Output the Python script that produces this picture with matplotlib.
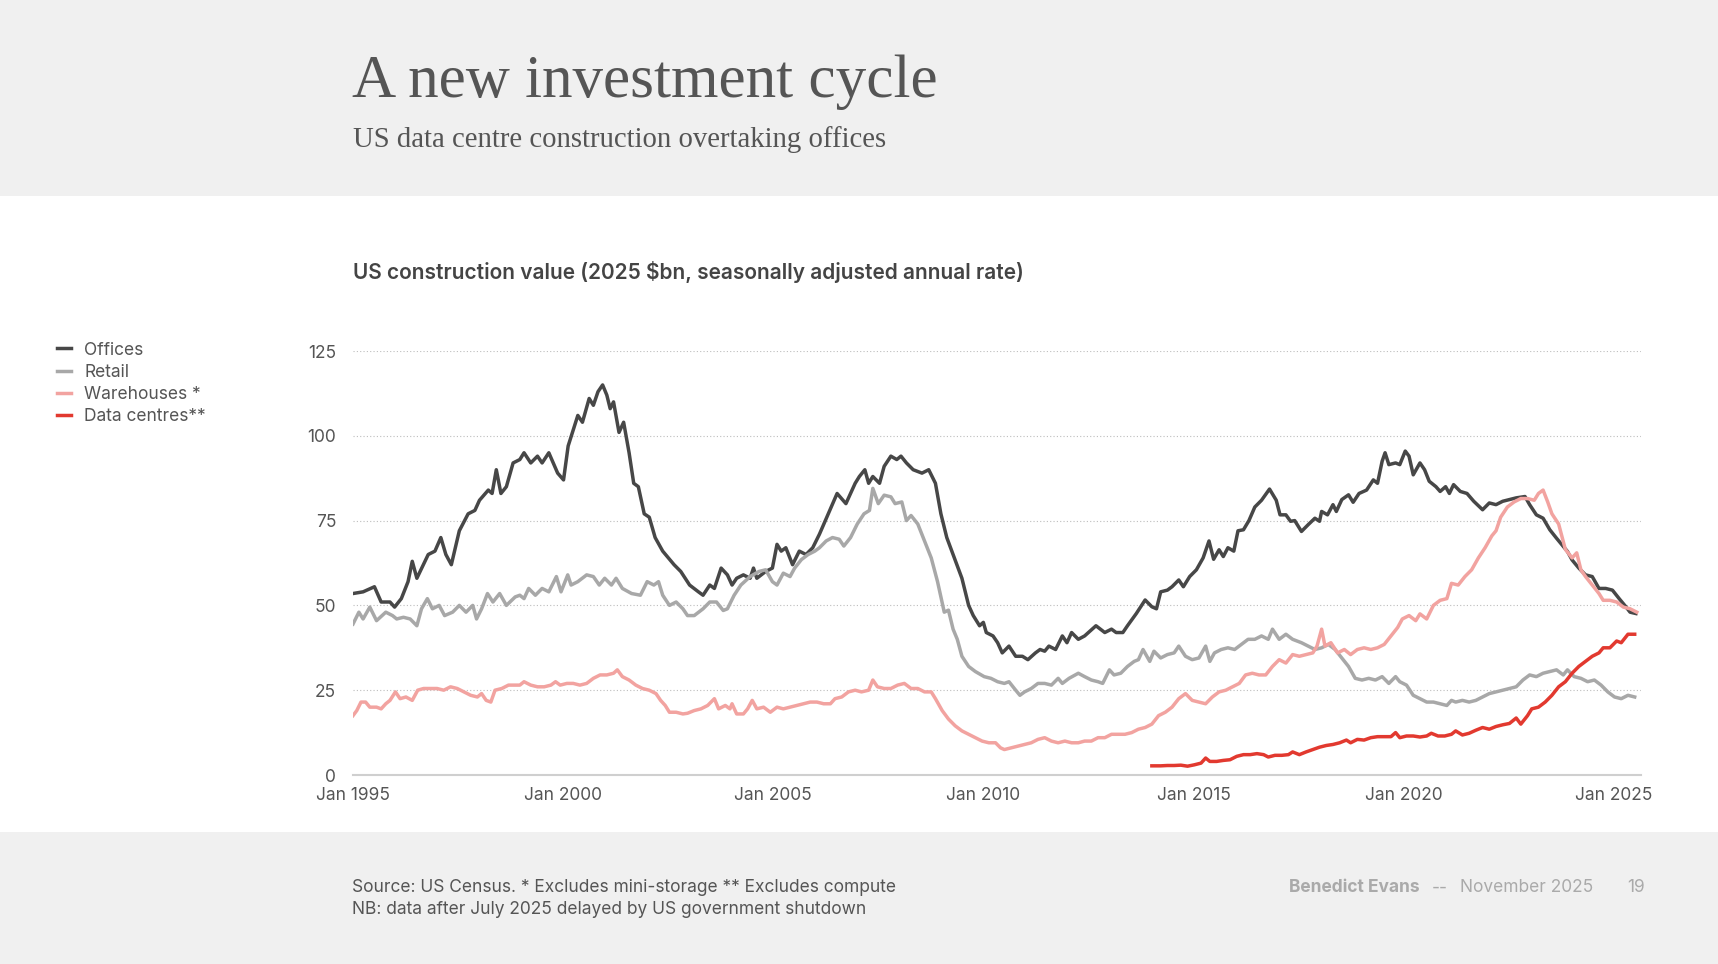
import matplotlib
matplotlib.use("Agg")
import matplotlib.pyplot as plt

# values (decimal year, $bn)
offices_t = [1995.0, 1995.24, 1995.51, 1995.67, 1995.88, 1995.99, 1996.15, 1996.31, 1996.41, 1996.52,
             1996.79, 1996.95, 1997.09, 1997.21, 1997.34, 1997.53, 1997.74, 1997.9, 1998.01, 1998.22,
             1998.31, 1998.41, 1998.52, 1998.65, 1998.81, 1998.97, 1999.07, 1999.23, 1999.39, 1999.5,
             1999.66, 1999.87, 2000.01, 2000.12, 2000.3, 2000.35, 2000.46, 2000.62, 2000.72, 2000.83,
             2000.94, 2001.04, 2001.12, 2001.2, 2001.33, 2001.44, 2001.57, 2001.68, 2001.79, 2001.93,
             2002.05, 2002.19, 2002.37, 2002.64, 2002.8, 2003.01, 2003.22, 2003.33, 2003.49, 2003.6,
             2003.76, 2003.91, 2004.02, 2004.13, 2004.29, 2004.45, 2004.53, 2004.61, 2004.82, 2004.98,
             2005.09, 2005.19, 2005.3, 2005.46, 2005.62, 2005.78, 2005.94, 2006.1, 2006.31, 2006.52,
             2006.73, 2006.95, 2007.05, 2007.18, 2007.27, 2007.37, 2007.53, 2007.64, 2007.8, 2007.94,
             2008.04, 2008.17, 2008.33, 2008.54, 2008.7, 2008.86, 2008.99, 2009.13,
             2009.28, 2009.49, 2009.65, 2009.76, 2009.91, 2010.0, 2010.07, 2010.23, 2010.34, 2010.45,
             2010.61, 2010.77, 2010.93, 2011.06, 2011.24, 2011.35, 2011.46, 2011.56, 2011.72, 2011.88,
             2011.99, 2012.1, 2012.26, 2012.41, 2012.68, 2012.89, 2013.05, 2013.16, 2013.32, 2013.43,
             2013.64, 2013.85, 2014.01, 2014.12, 2014.22, 2014.38, 2014.49, 2014.65, 2014.76, 2014.91,
             2015.07, 2015.23, 2015.37, 2015.48, 2015.61, 2015.71, 2015.82, 2015.96, 2016.06, 2016.19,
             2016.32, 2016.46, 2016.62, 2016.81, 2016.97, 2017.06, 2017.2, 2017.31, 2017.41, 2017.57,
             2017.73, 2017.89, 2018.0, 2018.05, 2018.19, 2018.32, 2018.4, 2018.53, 2018.69, 2018.8,
             2018.94, 2019.12, 2019.28, 2019.38, 2019.49, 2019.56, 2019.65, 2019.81, 2019.91, 2020.04,
             2020.13, 2020.23, 2020.39, 2020.5, 2020.61, 2020.77, 2020.87, 2021.0, 2021.09, 2021.19,
             2021.35, 2021.51, 2021.67, 2021.88, 2022.04, 2022.2, 2022.36, 2022.52, 2022.68, 2022.89,
             2023.0, 2023.16, 2023.32, 2023.48, 2023.64, 2023.74, 2023.9, 2024.01, 2024.17, 2024.33,
             2024.49, 2024.65, 2024.81, 2024.97, 2025.13, 2025.29, 2025.39, 2025.53]
offices_v = [53.5, 54, 55.5, 51, 51, 49.5, 52, 57, 63, 58,
             65, 66, 70, 65, 62, 72, 77, 78, 81, 84,
             83, 90, 83, 85, 92, 93, 95, 92, 94, 92,
             95, 89, 87, 97, 104, 106, 104, 111, 109, 113,
             115, 112, 108, 110, 101, 104, 95, 86, 85, 77,
             76, 70, 66, 62, 60, 56, 54, 53, 56, 55,
             61, 59, 56, 58, 59, 58, 61, 58, 60, 61,
             68, 66, 67, 62, 66, 65, 67, 71, 77, 83,
             80, 86, 88, 90, 86, 88, 86, 91, 94, 93,
             94, 92, 90, 89, 90, 86, 77, 70,
             65, 58, 50, 47, 44, 45, 42, 41, 39, 36,
             38, 35, 35, 34, 36, 37, 36.5, 38, 37, 41,
             39, 42, 40, 41, 44, 42, 43, 42, 42, 44,
             47.6, 51.6, 49.6, 49, 54, 54.5, 55.5, 57.5, 55.5, 58.5,
             60.5, 64, 69, 63.6, 66.4, 64.4, 67, 66, 72, 72.3,
             75, 79, 81, 84.3, 81, 76.7, 76.7, 74.8, 75, 71.8,
             73.8, 75.7, 74.8, 77.7, 76.7, 79.7, 77.7, 81.2, 82.6, 80.4,
             83, 84, 87, 86, 92.5, 95, 91.5, 92, 91.5, 95.5,
             94, 88.5, 92, 90, 86.6, 85, 83.6, 85, 83, 85.6,
             83.6, 83, 80.7, 78.2, 80.2, 79.7, 80.7, 81.2, 81.7, 82.1,
             79.7, 76.7, 75.7, 72.3, 69.8, 68.3, 65.9, 63.4, 61, 59,
             58.5, 55, 55, 54.5, 52, 49.6, 48, 47.6]

retail_t = [1995.0, 1995.14, 1995.24, 1995.4, 1995.56, 1995.78, 1995.94, 1996.04, 1996.2, 1996.36,
            1996.52, 1996.63, 1996.77, 1996.89, 1997.05, 1997.18, 1997.37, 1997.53, 1997.69, 1997.85,
            1997.94, 1998.06, 1998.2, 1998.33, 1998.49, 1998.65, 1998.86, 1998.97, 1999.07, 1999.18,
            1999.34, 1999.5, 1999.66, 1999.84, 1999.95, 2000.11, 2000.19, 2000.35, 2000.56, 2000.72,
            2000.86, 2000.99, 2001.15, 2001.26, 2001.41, 2001.63, 2001.84, 2002.0, 2002.16, 2002.27,
            2002.37, 2002.53, 2002.69, 2002.85, 2002.96, 2003.12, 2003.33, 2003.49, 2003.65, 2003.81,
            2003.91, 2004.07, 2004.23, 2004.45, 2004.66, 2004.82, 2004.98, 2005.09, 2005.24, 2005.4,
            2005.51, 2005.67, 2005.83, 2005.99, 2006.1, 2006.26, 2006.41, 2006.57, 2006.68, 2006.84,
            2007.0, 2007.16, 2007.29, 2007.37, 2007.5, 2007.64, 2007.8, 2007.9, 2008.06, 2008.17,
            2008.28, 2008.44, 2008.6, 2008.76, 2008.91, 2009.07,
            2009.17, 2009.28, 2009.38, 2009.49, 2009.65, 2009.81, 2010.02, 2010.18, 2010.34, 2010.5,
            2010.61, 2010.77, 2010.87, 2010.98, 2011.14, 2011.3, 2011.46, 2011.62, 2011.78, 2011.88,
            2012.04, 2012.26, 2012.41, 2012.57, 2012.73, 2012.84, 2013.0, 2013.11, 2013.27, 2013.43,
            2013.59, 2013.69, 2013.8, 2013.96, 2014.06, 2014.22, 2014.38, 2014.54, 2014.65, 2014.81,
            2014.97, 2015.13, 2015.29, 2015.39, 2015.5, 2015.66, 2015.82, 2015.98, 2016.14, 2016.3,
            2016.46, 2016.62, 2016.78, 2016.88, 2017.04, 2017.2, 2017.36, 2017.57, 2017.73, 2017.89,
            2018.05, 2018.21, 2018.37, 2018.53, 2018.69, 2018.85, 2019.01, 2019.17, 2019.33, 2019.49,
            2019.65, 2019.81, 2019.91, 2020.07, 2020.23, 2020.39, 2020.55, 2020.71, 2020.87, 2021.03,
            2021.14, 2021.24, 2021.4, 2021.56, 2021.72, 2021.88, 2022.04, 2022.2, 2022.36, 2022.52,
            2022.68, 2022.84, 2023.0, 2023.16, 2023.32, 2023.48, 2023.64, 2023.8, 2023.9, 2024.06,
            2024.22, 2024.38, 2024.54, 2024.7, 2024.86, 2025.02, 2025.18, 2025.34, 2025.5]
retail_v = [44.5, 48, 46, 49.5, 45.5, 48, 47, 46, 46.5, 46,
            44, 49, 52, 49, 50, 47, 48, 50, 48, 50,
            46, 49, 53.5, 51, 53.5, 50, 52.5, 53, 52, 55,
            53, 55, 54, 58.5, 54, 59, 56, 57, 59, 58.5,
            56, 58, 56, 58, 55, 53.5, 53, 57, 56, 57,
            53, 50, 51, 49, 47, 47, 49, 51, 51, 48.5,
            49, 53, 56, 58.5, 60, 60.5, 57, 56, 59.5, 58.5,
            61, 63.5, 65, 66, 67, 69, 70, 69.5, 67.5, 70,
            74, 77, 78, 84.5, 80, 82.5, 82, 80, 80.5, 75,
            76.5, 74, 69, 64, 57, 48,
            48.6, 43, 40, 35, 32, 30.5, 29, 28.5, 27.5, 27,
            27.5, 25, 23.5, 24.5, 25.5, 27, 27, 26.5, 28.5, 27,
            28.5, 30, 29, 28, 27.5, 27, 31, 29.5, 30, 32,
            33.5, 34, 37, 33.5, 36.5, 34.5, 35.5, 36, 38, 35,
            34, 34.5, 38, 33.5, 36, 37, 37.5, 37, 38.5, 40,
            40, 41, 40, 43, 40, 41.5, 40, 39, 38, 37,
            37.5, 38.5, 37, 34.5, 32, 28.5, 28, 28.5, 28, 29,
            27, 29, 27.5, 26.5, 23.5, 22.5, 21.5, 21.5, 21, 20.5,
            22, 21.5, 22, 21.5, 22, 23, 24, 24.5, 25, 25.5,
            26, 28, 29.5, 29, 30, 30.5, 31, 29.5, 31, 29,
            28.5, 27.5, 28, 26.5, 24.5, 23, 22.5, 23.5, 23]

warehouses_t = [1995.0, 1995.09, 1995.19, 1995.3, 1995.4, 1995.56, 1995.67, 1995.78, 1995.88, 1996.01,
                1996.12, 1996.26, 1996.41, 1996.54, 1996.68, 1996.84, 1997.0, 1997.16, 1997.32, 1997.48,
                1997.64, 1997.8, 1997.96, 1998.06, 1998.17, 1998.28, 1998.38, 1998.54, 1998.7, 1998.86,
                1998.97, 1999.07, 1999.23, 1999.39, 1999.55, 1999.71, 1999.82, 1999.93, 2000.09, 2000.24,
                2000.4, 2000.56, 2000.72, 2000.88, 2001.04, 2001.2, 2001.29, 2001.41, 2001.57, 2001.73,
                2001.89, 2002.05, 2002.21, 2002.32, 2002.43, 2002.53, 2002.69, 2002.85, 2002.96, 2003.12,
                2003.28, 2003.44, 2003.6, 2003.7, 2003.86, 2003.97, 2004.02, 2004.13, 2004.29, 2004.39,
                2004.5, 2004.61, 2004.77, 2004.93, 2005.09, 2005.24, 2005.4, 2005.56, 2005.72, 2005.88,
                2006.04, 2006.2, 2006.36, 2006.47, 2006.63, 2006.79, 2006.95, 2007.1, 2007.27, 2007.37,
                2007.48, 2007.64, 2007.8, 2007.96, 2008.12, 2008.28, 2008.44, 2008.6, 2008.76, 2008.86,
                2009.02,
                2009.17, 2009.33, 2009.49, 2009.65, 2009.81, 2009.97, 2010.13, 2010.29, 2010.41, 2010.5,
                2010.66, 2010.82, 2010.98, 2011.14, 2011.3, 2011.46, 2011.62, 2011.78, 2011.94, 2012.1,
                2012.26, 2012.41, 2012.57, 2012.73, 2012.89, 2013.05, 2013.21, 2013.37, 2013.53, 2013.69,
                2013.85, 2014.01, 2014.17, 2014.33, 2014.49, 2014.65, 2014.81, 2014.97, 2015.13, 2015.29,
                2015.45, 2015.61, 2015.77, 2015.93, 2016.09, 2016.24, 2016.4, 2016.56, 2016.72, 2016.88,
                2017.04, 2017.2, 2017.36, 2017.52, 2017.68, 2017.84, 2017.94, 2018.05, 2018.13, 2018.27,
                2018.43, 2018.59, 2018.74, 2018.9, 2019.06, 2019.22, 2019.38, 2019.54, 2019.7, 2019.86,
                2019.97, 2020.13, 2020.29, 2020.39, 2020.55, 2020.71, 2020.87, 2021.03, 2021.14, 2021.3,
                2021.46, 2021.62, 2021.78, 2021.94, 2022.1, 2022.2, 2022.31, 2022.47, 2022.63, 2022.79,
                2022.95, 2023.11, 2023.21, 2023.32, 2023.43, 2023.53, 2023.69, 2023.85, 2024.01, 2024.12,
                2024.22, 2024.33, 2024.49, 2024.65, 2024.75, 2024.91, 2025.07, 2025.23, 2025.39, 2025.55]
warehouses_v = [17.5, 19, 21.5, 21.5, 20, 20, 19.5, 21, 22, 24.5,
                22.5, 23, 22, 25, 25.5, 25.5, 25.5, 25, 26, 25.5,
                24.5, 23.5, 23, 24, 22, 21.5, 25, 25.5, 26.5, 26.5,
                26.5, 27.5, 26.5, 26, 26, 26.5, 27.5, 26.5, 27, 27,
                26.5, 27, 28.5, 29.5, 29.5, 30, 31, 29, 28, 26.5,
                25.5, 25, 24, 22, 20.5, 18.5, 18.5, 18, 18.2, 19,
                19.5, 20.5, 22.5, 19.5, 20.5, 19.5, 21, 18, 18, 19.5,
                22, 19.5, 20, 18.5, 20, 19.5, 20, 20.5, 21, 21.5,
                21.5, 21, 21, 22.5, 23, 24.5, 25, 24.5, 25, 28,
                26, 25.5, 25.5, 26.5, 27, 25.5, 25.5, 24.5, 24.5, 22.5,
                19,
                16.5, 14.5, 13, 12, 11, 10, 9.5, 9.5, 8, 7.5,
                8, 8.5, 9, 9.5, 10.5, 11, 10, 9.5, 10, 9.5,
                9.5, 10, 10, 11, 11, 12, 12, 12, 12.5, 13.5,
                14, 15, 17.5, 18.5, 20, 22.5, 24, 22, 21.5, 21,
                23, 24.5, 25, 26, 27, 29.5, 30, 29.5, 29.5, 32,
                34, 33, 35.5, 35, 35.5, 36, 38, 43, 38, 39,
                36, 37, 35.5, 37, 37.5, 37, 37.5, 38.5, 41, 43.5,
                46, 47, 45.5, 47.5, 46, 50, 51.5, 52, 56.5, 56,
                58.5, 60.5, 64, 67, 70.5, 72, 76, 79, 80.5, 81.5,
                81.5, 81, 83, 84, 80.5, 77, 74, 66.5, 64, 65.5,
                60.5, 58.5, 56, 53.5, 51.5, 51.5, 51, 49.5, 49, 48]

datacentres_t = [2014.01, 2014.22, 2014.38, 2014.54, 2014.7, 2014.86, 2015.02, 2015.18, 2015.29, 2015.39,
                 2015.55, 2015.71, 2015.87, 2016.03, 2016.19, 2016.35, 2016.51, 2016.67, 2016.78, 2016.94,
                 2017.1, 2017.26, 2017.36, 2017.52, 2017.68, 2017.84, 2018.0, 2018.16, 2018.32, 2018.48,
                 2018.64, 2018.74, 2018.9, 2019.06, 2019.22, 2019.38, 2019.54, 2019.7, 2019.81, 2019.91,
                 2020.07, 2020.23, 2020.39, 2020.55, 2020.66, 2020.82, 2020.98, 2021.14, 2021.24, 2021.4,
                 2021.56, 2021.72, 2021.88, 2022.04, 2022.2, 2022.36, 2022.52, 2022.68, 2022.79, 2022.95,
                 2023.05, 2023.21, 2023.37, 2023.53, 2023.69, 2023.85, 2024.01, 2024.17, 2024.33, 2024.49,
                 2024.65, 2024.75, 2024.91, 2025.07, 2025.18, 2025.34, 2025.5]
datacentres_v = [2.7, 2.7, 2.8, 2.8, 2.9, 2.6, 3.0, 3.5, 5.0, 4.0,
                 4.0, 4.3, 4.5, 5.5, 6.0, 6.0, 6.3, 6.0, 5.3, 5.8,
                 5.8, 6.0, 6.8, 6.0, 6.8, 7.5, 8.2, 8.7, 9.0, 9.5,
                 10.3, 9.5, 10.5, 10.3, 11.0, 11.3, 11.3, 11.3, 12.5, 11.0,
                 11.5, 11.5, 11.2, 11.5, 12.3, 11.5, 11.5, 12.0, 13.0, 11.8,
                 12.3, 13.2, 14.0, 13.5, 14.3, 14.8, 15.2, 16.8, 15.0, 17.5,
                 19.5, 20.0, 21.5, 23.5, 26.0, 27.5, 30.0, 32.0, 33.5, 35.0,
                 36.0, 37.5, 37.5, 39.5, 39.0, 41.5, 41.5]

series_names = ["Offices", "Retail", "Warehouses *", "Data centres**"]
series_colors = ["#474747", "#a8a8a8", "#f2a3a0", "#e2392f"]

year_ticks = [1995, 2000, 2005, 2010, 2015, 2020, 2025]
year_labels = ["Jan 1995", "Jan 2000", "Jan 2005", "Jan 2010", "Jan 2015", "Jan 2020", "Jan 2025"]
value_ticks = [0, 25, 50, 75, 100, 125]

W, H = 1718, 964
sans = ["Inter", "DejaVu Sans"]
serif = ["Liberation Serif", "DejaVu Serif"]

fig = plt.figure(figsize=(W / 100, H / 100), dpi=100, facecolor="#f0f0f0")

# white middle band
fig.patches.append(plt.Rectangle((0, 1 - 832 / H), 1, (832 - 196) / H, transform=fig.transFigure,
                                 facecolor="white", edgecolor="none", zorder=-5))

def fx(x):
    return x / W

def fy(y):
    return 1 - y / H

fig.text(fx(352), fy(82), "A new investment cycle", family=serif, fontsize=44, color="#555555", va="center")
fig.text(fx(353), fy(140), "US data centre construction overtaking offices", family=serif, fontsize=20.7,
         color="#555555", va="center")
fig.text(fx(353), fy(272), "US construction value (2025 $bn, seasonally adjusted annual rate)", family=sans,
         fontsize=15, fontweight="semibold", color="#444444", va="center")

ax = fig.add_axes([fx(353), fy(775), fx(1641 - 353), (775 - 351) / H])
ax.set_facecolor("none")
ax.set_zorder(2)

all_t = [offices_t, retail_t, warehouses_t, datacentres_t]
all_v = [offices_v, retail_v, warehouses_v, datacentres_v]
order = [1, 2, 3, 0]
lines = {}
for i in order:
    ln, = ax.plot(all_t[i], all_v[i], color=series_colors[i], lw=2.5, solid_joinstyle="round", zorder=3 + i)
    lines[i] = ln

ax.set_xlim(1995, 2025.65)
ax.set_ylim(0, 125)
ax.set_xticks(year_ticks)
ax.set_xticklabels(year_labels)
ax.set_yticks(value_ticks)
for s in ["top", "right", "left"]:
    ax.spines[s].set_visible(False)
ax.spines["bottom"].set_color("#cfcfcf")
ax.spines["bottom"].set_linewidth(1.5)
ax.set_axisbelow(True)
ax.grid(axis="y", color="#bdbdbd", linestyle=(0, (1, 2)), linewidth=0.8)
ax.tick_params(axis="both", length=0, labelsize=12.5, labelcolor="#555555", pad=9)
ax.tick_params(axis="y", pad=12)
for lab in ax.get_xticklabels() + ax.get_yticklabels():
    lab.set_family(sans)

leg = fig.legend([lines[i] for i in range(4)], series_names, loc="upper left",
                 bbox_to_anchor=(fx(56.5), fy(341.5)), frameon=False, prop={"family": sans, "size": 12.5},
                 handlelength=0.85, handletextpad=0.75, labelspacing=0.3, borderaxespad=0,
                 borderpad=0)
for t in leg.get_texts():
    t.set_color("#555555")
for h in leg.get_lines():
    h.set_linewidth(2.5)

fs = 12.5
fig.text(fx(352), fy(887), "Source: US Census. * Excludes mini-storage ** Excludes compute", family=sans,
         fontsize=fs, color="#555555", va="center")
fig.text(fx(352), fy(909), "NB: data after July 2025 delayed by US government shutdown", family=sans,
         fontsize=fs, color="#555555", va="center")
fig.text(fx(1289), fy(888), "Benedict Evans", family=sans, fontsize=fs, fontweight="bold",
         color="#aaaaaa", va="center")
fig.text(fx(1432), fy(888), "--", family=sans, fontsize=fs, color="#aaaaaa", va="center")
fig.text(fx(1460), fy(888), "November 2025", family=sans, fontsize=fs, color="#aaaaaa", va="center")
fig.text(fx(1645), fy(888), "19", family=sans, fontsize=fs, color="#aaaaaa", va="center", ha="right")

fig.savefig("out.png", dpi=100, facecolor=fig.get_facecolor())
